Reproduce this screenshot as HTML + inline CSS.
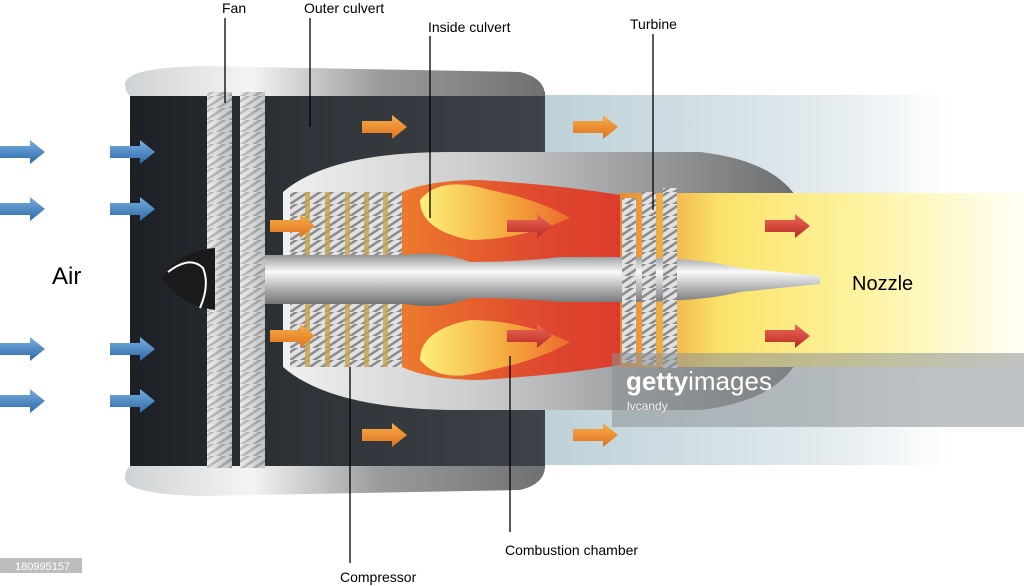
<!DOCTYPE html>
<html><head><meta charset="utf-8"><style>
html,body{margin:0;padding:0;background:#fff;width:1024px;height:586px;overflow:hidden}
svg{display:block}
text{font-family:"Liberation Sans",sans-serif;fill:#000}
</style></head><body>
<svg width="1024" height="586" viewBox="0 0 1024 586" xmlns="http://www.w3.org/2000/svg">
<defs>
<linearGradient id="bar" x1="0" x2="1"><stop offset="0" stop-color="#cfd2d4"/><stop offset=".3" stop-color="#f4f4f4"/><stop offset=".6" stop-color="#9a9c9e"/><stop offset="1" stop-color="#6e7072"/></linearGradient>
<linearGradient id="body" x1="0" x2="1"><stop offset="0" stop-color="#1c2024"/><stop offset=".4" stop-color="#2e3338"/><stop offset="1" stop-color="#3d4348"/></linearGradient>
<linearGradient id="exh" x1="0" x2="1"><stop offset="0" stop-color="#bcd0d8"/><stop offset=".7" stop-color="#e3ebee"/><stop offset="1" stop-color="#fff"/></linearGradient>
<linearGradient id="core" x1="0" x2="1"><stop offset="0" stop-color="#f0f0f0"/><stop offset=".4" stop-color="#c9cacb"/><stop offset="1" stop-color="#6c6e70"/></linearGradient>
<linearGradient id="jet" x1="0" x2="1"><stop offset="0" stop-color="#e8892e"/><stop offset=".25" stop-color="#fbe36a"/><stop offset=".6" stop-color="#fdf3a0"/><stop offset="1" stop-color="#fffff6"/></linearGradient>
<linearGradient id="comb" x1="0" x2="1"><stop offset="0" stop-color="#ec7a2e"/><stop offset=".6" stop-color="#e04a2e"/><stop offset="1" stop-color="#dc3c2c"/></linearGradient>
<linearGradient id="flame" x1="0" x2="1"><stop offset="0" stop-color="#fdf07a"/><stop offset=".6" stop-color="#f4a63c"/><stop offset="1" stop-color="#ec6a2e"/></linearGradient>
<linearGradient id="shaft" x1="0" y1="0" x2="0" y2="1"><stop offset="0" stop-color="#8a8c8e"/><stop offset=".35" stop-color="#fafafa"/><stop offset=".7" stop-color="#a8aaac"/><stop offset="1" stop-color="#6a6c6e"/></linearGradient>
<linearGradient id="blade" x1="0" x2="1"><stop offset="0" stop-color="#f4f4f4"/><stop offset="1" stop-color="#9fa1a3"/></linearGradient>
<linearGradient id="blue" x1="0" y1="0" x2="0" y2="1"><stop offset="0" stop-color="#7aaee0"/><stop offset="1" stop-color="#2d6aa8"/></linearGradient>
<linearGradient id="org" x1="0" y1="0" x2="0" y2="1"><stop offset="0" stop-color="#f8b04a"/><stop offset="1" stop-color="#e0701e"/></linearGradient>
<linearGradient id="red" x1="0" y1="0" x2="0" y2="1"><stop offset="0" stop-color="#ee6a5a"/><stop offset="1" stop-color="#b82a22"/></linearGradient>
<pattern id="blades" width="12" height="12" patternUnits="userSpaceOnUse"><rect width="12" height="12" fill="#e2e2e2"/><path d="M0 12 L12 4 L12 7 L0 15Z" fill="#8a8c8e"/><path d="M0 4 L12 -4 L12 -1 L0 7Z" fill="#8a8c8e"/></pattern>
<g id="ba"><path d="M0 -6 h30 v-6 l15 12 l-15 12 v-6 h-30z"/></g>
</defs>

<rect x="540" y="95" width="410" height="370" fill="url(#exh)"/>
<rect x="130" y="92" width="415" height="376" fill="url(#body)"/>
<path d="M125 84 Q125 68 200 66 L520 72 Q545 78 545 96 L130 96 Q125 92 125 84Z" fill="url(#bar)"/>
<path d="M125 478 Q125 494 200 496 L520 490 Q545 484 545 466 L130 466 Q125 470 125 478Z" fill="url(#bar)"/>
<path d="M283 192 Q330 152 450 152 L700 152 Q770 160 795 195 L795 365 Q770 402 700 410 L450 410 Q330 408 283 367 Z" fill="url(#core)"/>
<rect x="620" y="193" width="404" height="174" fill="url(#jet)"/>
<path d="M402 192 Q430 180 480 180 Q560 185 620 195 L620 365 Q560 375 480 380 Q430 380 402 367Z" fill="url(#comb)"/>
<path d="M420 200 Q440 175 490 190 Q540 200 570 218 Q520 240 470 240 Q420 230 420 200Z" fill="url(#flame)"/>
<path d="M420 360 Q440 385 490 370 Q540 360 570 342 Q520 320 470 320 Q420 330 420 360Z" fill="url(#flame)"/>
<rect x="290" y="192" width="112" height="175" fill="url(#blades)"/>
<g fill="#c8a44a" opacity=".8"><rect x="305" y="192" width="5" height="175"/><rect x="325" y="192" width="5" height="175"/><rect x="345" y="192" width="5" height="175"/><rect x="364" y="192" width="5" height="175"/><rect x="383" y="192" width="5" height="175"/></g>
<path d="M260 255 L405 255 Q440 250 470 262 Q520 262 560 257 L625 257 Q700 258 740 268 L820 276 L820 284 L740 292 Q700 302 625 302 L560 302 Q520 298 470 298 Q440 310 405 304 L260 304Z" fill="url(#shaft)"/>
<rect x="622" y="198" width="14" height="165" fill="url(#blades)"/>
<rect x="642" y="192" width="14" height="173" fill="url(#blades)"/>
<rect x="663" y="188" width="14" height="180" fill="url(#blades)"/>
<rect x="207" y="92" width="25" height="376" fill="url(#blades)"/>
<rect x="240" y="92" width="25" height="376" fill="url(#blades)"/>
<rect x="207" y="92" width="25" height="376" fill="url(#blade)" opacity=".5"/>
<rect x="240" y="92" width="25" height="376" fill="url(#blade)" opacity=".5"/>
<path d="M215 248 Q180 250 162 278 Q180 305 215 310Z" fill="#1a1a1c"/>
<path d="M168 272 Q190 255 203 268 Q210 285 200 308" fill="none" stroke="#fff" stroke-width="2"/>
<rect x="612" y="353" width="412" height="74" fill="#8d9296" opacity=".55"/>
<text x="626" y="390" font-size="26" font-weight="bold" style="fill:#fff">getty<tspan font-weight="normal">images</tspan></text>
<text x="627" y="410" font-size="12" style="fill:#eee">lvcandy</text>
<g fill="url(#blue)">
<use href="#ba" x="0" y="152"/><use href="#ba" x="110" y="152"/>
<use href="#ba" x="0" y="209"/><use href="#ba" x="110" y="209"/>
<use href="#ba" x="0" y="349"/><use href="#ba" x="110" y="349"/>
<use href="#ba" x="0" y="401"/><use href="#ba" x="110" y="401"/>
</g>
<g fill="url(#org)">
<use href="#ba" x="362" y="127"/><use href="#ba" x="573" y="127"/>
<use href="#ba" x="270" y="226"/><use href="#ba" x="270" y="336"/>
<use href="#ba" x="362" y="435"/><use href="#ba" x="573" y="435"/>
</g>
<g fill="url(#red)">
<use href="#ba" x="507" y="226"/><use href="#ba" x="507" y="336"/>
<use href="#ba" x="765" y="226"/><use href="#ba" x="765" y="336"/>
</g>
<g stroke="#000" stroke-width="1.3">
<line x1="225" y1="18" x2="225" y2="103"/>
<line x1="310" y1="18" x2="310" y2="127"/>
<line x1="430" y1="36" x2="430" y2="218"/>
<line x1="653" y1="34" x2="653" y2="210"/>
<line x1="350" y1="367" x2="350" y2="563"/>
<line x1="510" y1="356" x2="510" y2="532"/>
</g>
<text x="222" y="13" font-size="14">Fan</text>
<text x="304" y="13" font-size="14">Outer culvert</text>
<text x="428" y="32" font-size="14">Inside culvert</text>
<text x="630" y="29" font-size="14">Turbine</text>
<text x="52" y="284" font-size="24">Air</text>
<text x="852" y="290" font-size="20">Nozzle</text>
<text x="505" y="555" font-size="14">Combustion chamber</text>
<text x="340" y="582" font-size="14">Compressor</text>
<rect x="0" y="558" width="82" height="15" fill="#bdbdbd"/>
<text x="15" y="570" font-size="11" style="fill:#fff">180995157</text>
</svg>
</body></html>
